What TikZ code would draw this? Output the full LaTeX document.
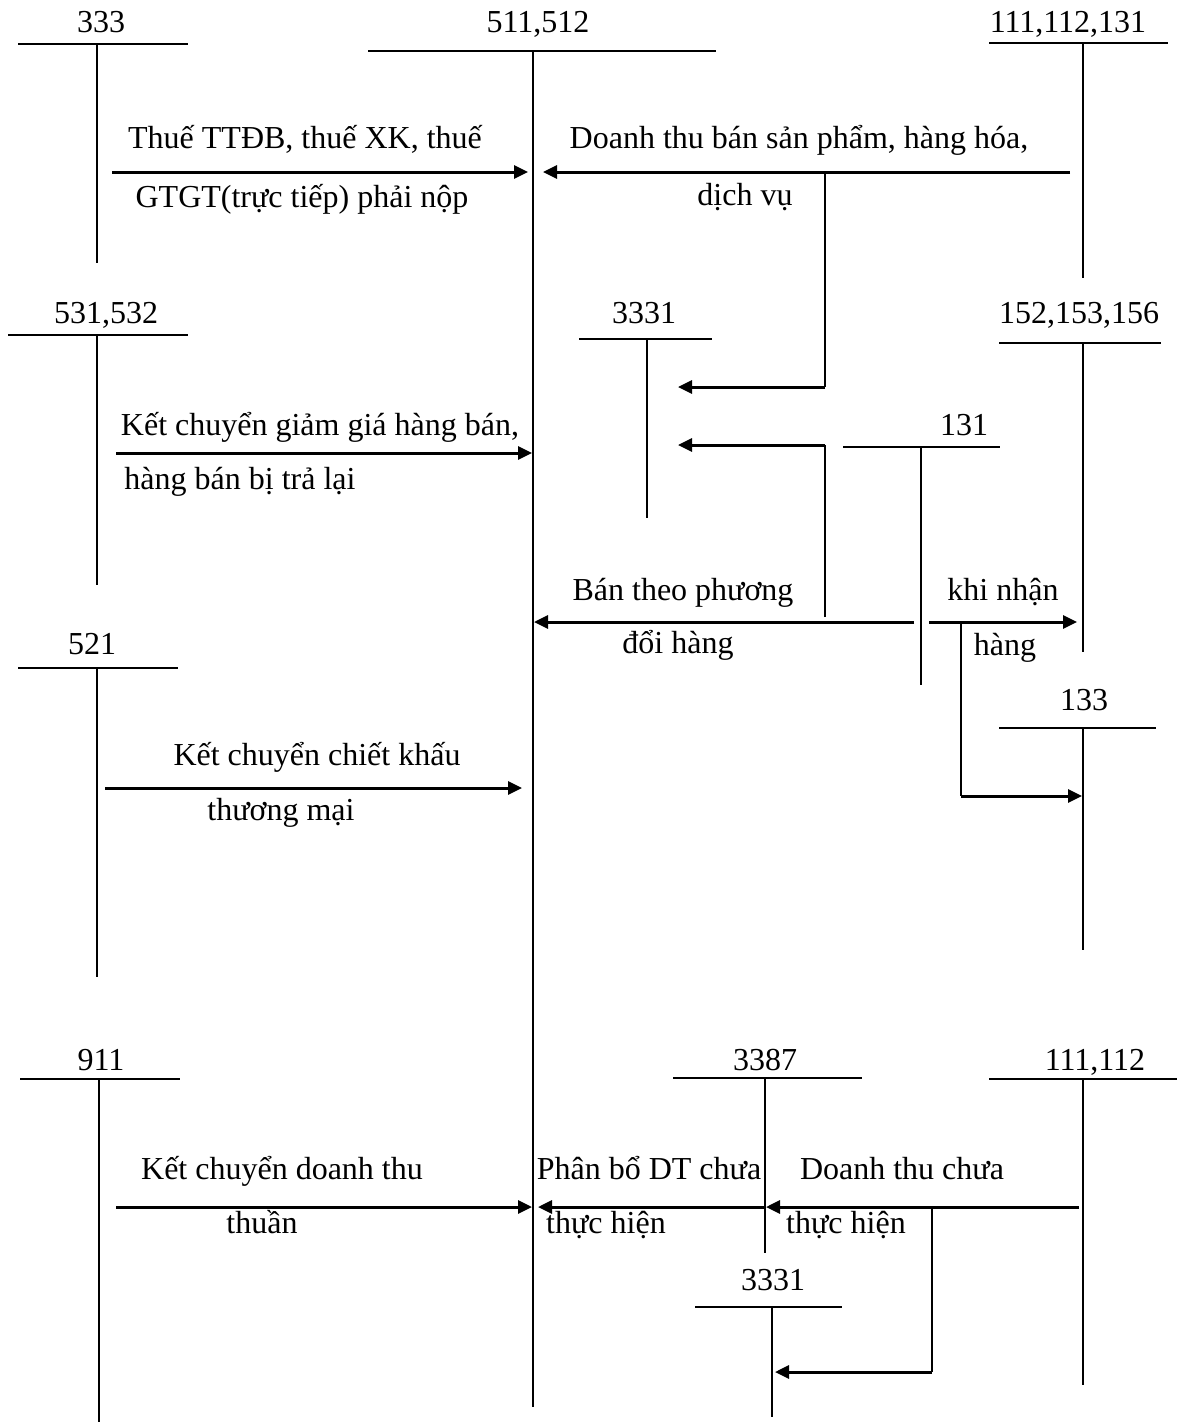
\documentclass[tikz,border=0pt]{standalone}
\usepackage{fontspec}
\setmainfont{Liberation Serif}
\usepackage{tikz}
\usetikzlibrary{arrows.meta}

\begin{document}
\begin{tikzpicture}[x=1pt, y=-1pt,
    acct/.style={line width=1.6pt},
    flow/.style={line width=3pt, -{Triangle[length=14pt, width=13pt]}},
    lbl/.style={anchor=base, inner sep=0pt, font=\fontsize{32}{38}\selectfont}]

  \useasboundingbox (0,0) rectangle (1177,1422);

  % ---------- T-accounts ----------
  \foreach \nm/\txt/\lx/\ly/\xa/\xb/\yl/\xv/\yb in {
      t333/333/101/32/18/188/44/97/263,
      t511/{511,512}/538/32/368/716/51/533/1407,
      t111a/{111,112,131}/1068/32/989/1168/43/1083/278,
      t531/{531,532}/106/323/8/188/335/97/585,
      t3331a/3331/644/323/579/712/339/647/518,
      t152/{152,153,156}/1079/323/999/1161/343/1083/652,
      t131/131/964/435/843/1000/447/921/685,
      t521/521/92/654/18/178/668/97/977,
      t133/133/1084/710/999/1156/728/1083/950,
      t911/911/101/1070/20/180/1079/99/1422,
      t3387/3387/765/1070/673/862/1078/765/1253,
      t111b/{111,112}/1095/1070/989/1177/1079/1083/1385,
      t3331b/3331/773/1290/695/842/1307/772/1417}{
    \node[lbl] (\nm) at (\lx,\ly) {\txt};
    \draw[acct] (\xa,\yl) -- (\xb,\yl);
    \draw[acct] (\xv,\yl) -- (\xv,\yb);
  }

  % ---------- Row 1: 333 / 111,112,131 -> 511,512 ----------
  \coordinate (a1s) at (112,172);  \coordinate (a1e) at (528,172);
  \coordinate (a2s) at (1070,172); \coordinate (a2e) at (543,172);
  \coordinate (b1s) at (825,172);  \coordinate (b1c) at (825,387);
  \coordinate (b1e) at (678,387);
  \draw[flow] (a1s) -- (a1e);
  \draw[flow] (a2s) -- (a2e);
  \draw[acct] (b1s) -- (b1c);
  \draw[flow] (b1c) -- (b1e);

  \node[lbl] (l1a) at (305,148) {Thuế TTĐB, thuế XK, thuế};
  \node[lbl] (l1b) at (302,207) {GTGT(trực tiếp) phải nộp};
  \node[lbl] (l2a) at (799,148) {Doanh thu bán sản phẩm, hàng hóa,};
  \node[lbl] (l2b) at (745,205) {dịch vụ};

  % ---------- Row 2: 531,532 / barter via 131 ----------
  \coordinate (a3s) at (116,453);  \coordinate (a3e) at (532,453);
  \coordinate (a4s) at (914,622);  \coordinate (a4e) at (534,622);
  \coordinate (a5s) at (929,622);  \coordinate (a5e) at (1077,622);
  \coordinate (b2s) at (825,617);  \coordinate (b2c) at (825,445);
  \coordinate (b2e) at (678,445);
  \coordinate (b3s) at (961,622);  \coordinate (b3c) at (961,796);
  \coordinate (b3e) at (1082,796);
  \draw[flow] (a3s) -- (a3e);
  \draw[flow] (a4s) -- (a4e);
  \draw[flow] (a5s) -- (a5e);
  \draw[acct] (b2s) -- (b2c);
  \draw[flow] (b2c) -- (b2e);
  \draw[acct] (b3s) -- (b3c);
  \draw[flow] (b3c) -- (b3e);

  \node[lbl] (l3a) at (320,435) {Kết chuyển giảm giá hàng bán,};
  \node[lbl] (l3b) at (240,489) {hàng bán bị trả lại};
  \node[lbl] (l4a) at (683,600) {Bán theo phương};
  \node[lbl] (l4b) at (678,653) {đổi hàng};
  \node[lbl] (l5a) at (1003,600) {khi nhận};
  \node[lbl] (l5b) at (1005,655) {hàng};

  % ---------- Row 3: 521 ----------
  \coordinate (a6s) at (105,788);  \coordinate (a6e) at (522,788);
  \draw[flow] (a6s) -- (a6e);
  \node[lbl] (l6a) at (317,765) {Kết chuyển chiết khấu};
  \node[lbl] (l6b) at (281,820) {thương mại};

  % ---------- Row 4: 911 / 3387 / 111,112 ----------
  \coordinate (a7s) at (116,1207);  \coordinate (a7e) at (532,1207);
  \coordinate (a8s) at (765,1207);  \coordinate (a8e) at (538,1207);
  \coordinate (a9s) at (1079,1207); \coordinate (a9e) at (766,1207);
  \coordinate (b4s) at (932,1207);  \coordinate (b4c) at (932,1372);
  \coordinate (b4e) at (775,1372);
  \draw[flow] (a7s) -- (a7e);
  \draw[flow] (a8s) -- (a8e);
  \draw[flow] (a9s) -- (a9e);
  \draw[acct] (b4s) -- (b4c);
  \draw[flow] (b4c) -- (b4e);

  \node[lbl] (l7a) at (282,1179) {Kết chuyển doanh thu};
  \node[lbl] (l7b) at (262,1233) {thuần};
  \node[lbl] (l8a) at (649,1179) {Phân bổ DT chưa};
  \node[lbl] (l8b) at (606,1233) {thực hiện};
  \node[lbl] (l9a) at (902,1179) {Doanh thu chưa};
  \node[lbl] (l9b) at (846,1233) {thực hiện};

\end{tikzpicture}
\end{document}
